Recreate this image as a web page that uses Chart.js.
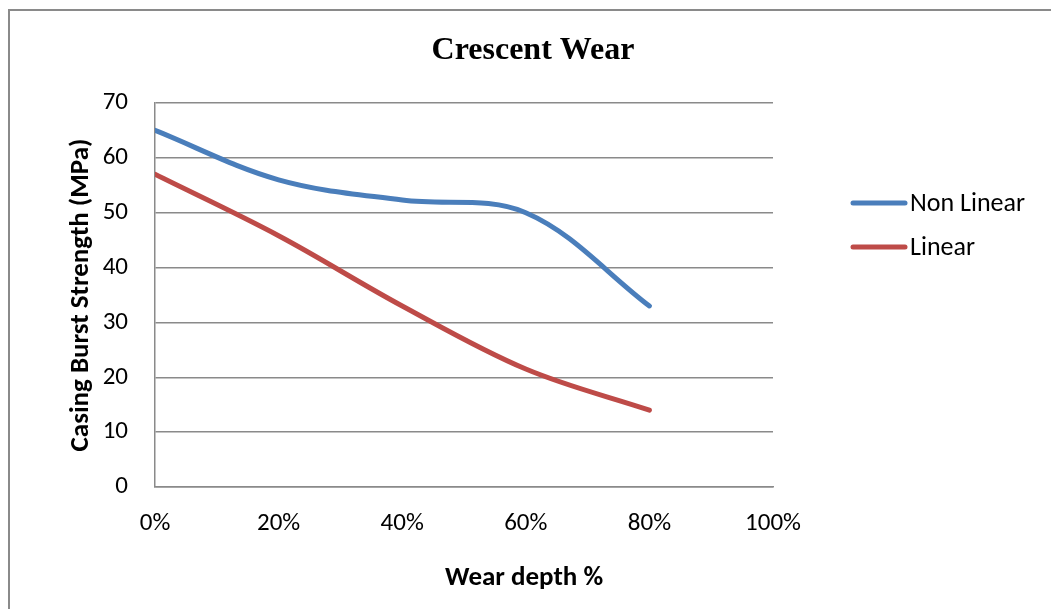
<!DOCTYPE html>
<html>
<head>
<meta charset="utf-8">
<script src="https://cdn.jsdelivr.net/npm/chart.js@4"></script>
<style>
  html, body { margin: 0; padding: 0; background: #ffffff; }
  #wrap { width: 1051px; height: 609px; position: relative; }
</style>
</head>
<body>
<div id="wrap"><canvas id="c" width="1051" height="609"></canvas></div>
<script>
// ---- data ----
const chartTitle = 'Crescent Wear';
const xAxisTitle = 'Wear depth %';
const yAxisTitle = 'Casing Burst Strength (MPa)';
const wearDepth = [0, 20, 40, 60, 80];               // percent
const nonLinear = [65, 56, 52.3, 50, 33];
const linear    = [57, 45.8, 33, 21.5, 14];
const seriesNames = ['Non Linear', 'Linear'];
const seriesColors = ['#4a7ebb', '#be4b48'];
const xTickLabels = ['0%', '20%', '40%', '60%', '80%', '100%'];
const yTickLabels = ['0', '10', '20', '30', '40', '50', '60', '70'];

const toPts = (xs, ys) => xs.map((x, i) => ({ x: x, y: ys[i] }));

const FONT = 'Carlito, Lato, "Open Sans", sans-serif';

const decorPlugin = {
  id: 'decor',
  beforeDraw(chart) {
    const ctx = chart.ctx;
    ctx.save();
    ctx.strokeStyle = '#8a8a8a';
    ctx.lineWidth = 2;
    ctx.beginPath();
    ctx.moveTo(9, 609);
    ctx.lineTo(9, 10);
    ctx.lineTo(1051, 10);
    ctx.stroke();
    ctx.restore();
  },
  afterDraw(chart) {
    const ctx = chart.ctx;
    ctx.save();
    // title
    ctx.fillStyle = '#000';
    ctx.textAlign = 'center';
    ctx.textBaseline = 'middle';
    ctx.font = 'bold 32px "Liberation Serif", "Times New Roman", serif';
    ctx.fillText(chartTitle, 533, 51);
    // x axis title
    ctx.font = 'bold 27px ' + FONT;
    ctx.fillText(xAxisTitle, 524, 578);
    // legend
    ctx.font = '26px ' + FONT;
    ctx.textAlign = 'left';
    const ys = [203, 247];
    chart.data.datasets.forEach((ds, i) => {
      const y = ys[i];
      ctx.strokeStyle = ds.borderColor;
      ctx.lineWidth = 5;
      ctx.lineCap = 'round';
      ctx.beginPath();
      ctx.moveTo(853, y);
      ctx.lineTo(905, y);
      ctx.stroke();
      ctx.fillStyle = '#000';
      ctx.fillText(ds.label, 910, y + 1);
    });
    ctx.restore();
  }
};

new Chart(document.getElementById('c'), {
  type: 'line',
  data: {
    datasets: [
      { label: seriesNames[0], data: toPts(wearDepth, nonLinear), borderColor: seriesColors[0], backgroundColor: seriesColors[0] },
      { label: seriesNames[1], data: toPts(wearDepth, linear), borderColor: seriesColors[1], backgroundColor: seriesColors[1] }
    ]
  },
  options: {
    responsive: false,
    animation: false,
    layout: { padding: { left: 9, right: 278, top: 103, bottom: 0 } },
    elements: {
      point: { radius: 0, hoverRadius: 0 },
      line: { borderWidth: 5, tension: 0.35, borderCapStyle: 'round', borderJoinStyle: 'round', fill: false }
    },
    plugins: {
      legend: { display: false },
      title: { display: false },
      tooltip: { enabled: false }
    },
    scales: {
      x: {
        type: 'linear',
        min: 0, max: 100,
        afterFit(scale) { scale.height = 122; },
        grid: { display: false, drawTicks: false },
        border: { display: true, color: '#8a8a8a', width: 1.5 },
        ticks: {
          stepSize: 20,
          padding: 22,
          color: '#000',
          font: { family: FONT, size: 25 },
          maxRotation: 0,
          callback: (v) => xTickLabels[Math.round(v / 20)]
        }
      },
      y: {
        min: 0, max: 70,
        afterFit(scale) { scale.width = 146; },
        grid: { color: '#8a8a8a', lineWidth: 1.5, drawTicks: false },
        border: { display: true, color: '#8a8a8a', width: 1.5 },
        ticks: {
          stepSize: 10,
          padding: 27,
          color: '#000',
          font: { family: FONT, size: 25 },
          callback: (v) => yTickLabels[Math.round(v / 10)]
        },
        title: {
          display: true,
          text: yAxisTitle,
          color: '#000',
          font: { family: FONT, size: 27, weight: 'bold' },
          padding: { top: 56, bottom: 0 }
        }
      }
    }
  },
  plugins: [decorPlugin]
});
</script>
</body>
</html>
